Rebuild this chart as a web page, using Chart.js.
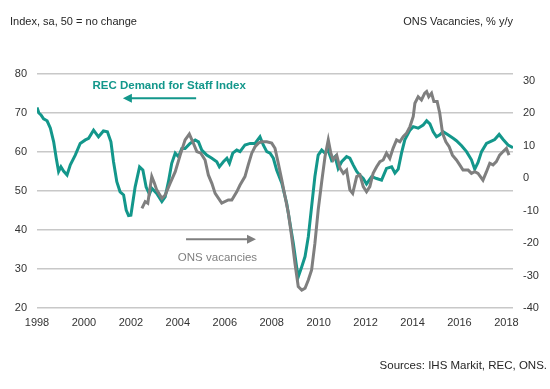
<!DOCTYPE html>
<html>
<head>
  <title>REC Demand for Staff vs ONS Vacancies</title>
  <script src="https://cdn.jsdelivr.net/npm/chart.js"></script>
  <style>
    body { margin: 0; background: #fff; }
    canvas { display: block; }
  </style>
</head>
<body>
  <canvas id="recChart" width="550" height="389"></canvas>

  <script>
    // REC Demand for Staff Index (left axis), decimal year -> index
    const recDates = [
      1998.0, 1998.08, 1998.17, 1998.28, 1998.43, 1998.57, 1998.71, 1998.82, 1998.92,
      1999.02, 1999.13, 1999.28, 1999.42, 1999.63, 1999.84, 2000.06, 2000.2, 2000.41,
      2000.62, 2000.83, 2001.0, 2001.15, 2001.26, 2001.4, 2001.54, 2001.69, 2001.8,
      2001.9, 2002.0, 2002.18, 2002.37, 2002.51, 2002.65, 2002.79, 2002.89, 2003.1,
      2003.32, 2003.46, 2003.6, 2003.74, 2003.89, 2004.03, 2004.17, 2004.31, 2004.52,
      2004.74, 2004.88, 2005.02, 2005.23, 2005.45, 2005.66, 2005.77, 2005.94, 2006.09,
      2006.2, 2006.34, 2006.51, 2006.65, 2006.86, 2007.08, 2007.29, 2007.5, 2007.64,
      2007.79, 2007.93, 2008.07, 2008.21, 2008.43, 2008.64, 2008.78, 2008.92, 2009.06,
      2009.13, 2009.28, 2009.42, 2009.56, 2009.7, 2009.84, 2009.98, 2010.13, 2010.27,
      2010.4, 2010.55, 2010.7, 2010.83, 2010.98, 2011.19, 2011.33, 2011.47, 2011.62,
      2011.76, 2011.9, 2012.04, 2012.26, 2012.47, 2012.68, 2012.89, 2013.11, 2013.25,
      2013.39, 2013.53, 2013.67, 2013.89, 2014.03, 2014.24, 2014.45, 2014.6, 2014.74,
      2014.88, 2015.02, 2015.16, 2015.3, 2015.51, 2015.73, 2015.87, 2016.09, 2016.3,
      2016.51, 2016.65, 2016.79, 2016.94, 2017.15, 2017.36, 2017.5, 2017.69, 2017.86,
      2018.07, 2018.28
    ];
    const recValues = [
      71.4, 70, 69.5, 68.5, 68, 66.1, 62.6, 58.4, 55,
      56.2, 55.1, 54.1, 56.7, 59.2, 62.2, 63.1, 63.5, 65.6,
      63.9, 65.4, 65.2, 62.6, 57.5, 52.4, 49.8, 49, 45.1,
      43.7, 43.8, 51, 56.2, 55.4, 51, 49.2, 50.7, 49.4,
      47.3, 48.5, 52.4, 57.1, 59.7, 58.8, 60.9, 60.9, 62.2,
      63.1, 62.6, 60.5, 59.2, 58.4, 57.5, 56.2, 57.5, 58.4,
      57.1, 59.7, 60.5, 60.1, 61.8, 62.2, 62.2, 63.9, 61.8,
      60.1, 59.7, 58.4, 55.4, 52, 46.8, 41.7, 36.6, 30.6,
      28, 30.6, 33.2, 38.3, 46, 53.7, 59.2, 60.5, 59.7,
      60.5, 57.9, 58.8, 55.8, 57.5, 58.8, 58.4, 56.7, 55,
      54, 53.2, 51.8, 53.7, 53.2, 52.8, 55.8, 56.2, 54.6,
      55.6, 59.7, 63.1, 65.6, 66.5, 66.1, 66.9, 68, 67.2,
      65.2, 63.9, 64.4, 65.2, 64.4, 63.5, 62.9, 61.6, 60.1,
      58, 55.6, 57.3, 60.1, 62.2, 62.8, 63.2, 64.5, 63.2,
      61.8, 61.1
    ];

    // ONS vacancies, % y/y (right axis)
    const onsDates = [
      2002.47, 2002.61, 2002.72, 2002.89, 2003.0, 2003.1, 2003.32, 2003.46, 2003.67,
      2003.89, 2004.1, 2004.31, 2004.49, 2004.66, 2004.81, 2004.98, 2005.16, 2005.3,
      2005.45, 2005.59, 2005.87, 2006.15, 2006.3, 2006.51, 2006.65, 2006.86, 2007.0,
      2007.15, 2007.29, 2007.43, 2007.57, 2007.79, 2008.0, 2008.14, 2008.28, 2008.43,
      2008.57, 2008.71, 2008.85, 2008.99, 2009.13, 2009.28, 2009.42, 2009.56, 2009.7,
      2009.84, 2009.98, 2010.13, 2010.27, 2010.41, 2010.52, 2010.62, 2010.77, 2010.91,
      2011.05, 2011.19, 2011.33, 2011.45, 2011.62, 2011.76, 2011.9, 2012.04, 2012.18,
      2012.32, 2012.47, 2012.61, 2012.75, 2012.89, 2013.03, 2013.17, 2013.32, 2013.46,
      2013.6, 2013.74, 2013.89, 2014.03, 2014.1, 2014.24, 2014.38, 2014.52, 2014.6,
      2014.69, 2014.81, 2014.91, 2015.05, 2015.16, 2015.28, 2015.42, 2015.56, 2015.7,
      2015.87, 2016.01, 2016.15, 2016.37, 2016.51, 2016.65, 2016.79, 2017.0, 2017.15,
      2017.29, 2017.43, 2017.57, 2017.71, 2017.86, 2018.0, 2018.11
    ];
    const onsValues = [
      -9.3, -7.2, -7.7, 0.5, -1.5, -3.6, -6.2, -5.2, -1.6,
      2, 7.1, 11.8, 13.6, 10.8, 8.2, 7.7, 5.6, 1,
      -1.6, -4.7, -7.7, -6.7, -6.7, -4.2, -2.1, 0.5, 4.1,
      7.7, 9.7, 10.8, 11.2, 11.2, 10.8, 9.2, 4.6, -0.6,
      -5.7, -10.8, -18, -26.2, -33.4, -34.5, -33.9, -31.4, -28.3,
      -20.1, -9.8, -1.1, 6.6, 11.8, 7.7, 5.6, 7.1, 3.1,
      1.5, 2.5, -3.6, -4.7, 0.5, 1, -2.6, -4.2, -2.6,
      1.5, 3.5, 5.1, 5.6, 7.7, 6.1, 9.2, 11.8, 11.2,
      12.8, 13.8, 15.9, 19, 23.1, 25.1, 24.1, 26.2, 26.7,
      25.1, 26.2, 23.6, 23.6, 20, 13.8, 11.2, 9.7, 7.1,
      5.6, 4.1, 2.5, 2.5, 1.5, 2, 1.5, -0.6, 2,
      4.6, 4.1, 5.1, 7.1, 8.2, 9.2, 7.1
    ];

    const xTicks = [1998, 2000, 2002, 2004, 2006, 2008, 2010, 2012, 2014, 2016, 2018];
    const leftTicks = [20, 30, 40, 50, 60, 70, 80];
    const rightTicks = [-40, -30, -20, -10, 0, 10, 20, 30];

    const teal = "#13978b";
    const grey = "#7f7f7f";
    const font = "'Liberation Sans', Arial, sans-serif";

    function arrow(ctx, x1, x2, y, color) {
      // line from x1 to x2, head at x2
      const dir = x2 > x1 ? 1 : -1;
      ctx.strokeStyle = color;
      ctx.fillStyle = color;
      ctx.lineWidth = 2;
      ctx.beginPath();
      ctx.moveTo(x1, y);
      ctx.lineTo(x2 - dir * 7, y);
      ctx.stroke();
      ctx.beginPath();
      ctx.moveTo(x2, y);
      ctx.lineTo(x2 - dir * 9, y - 4.5);
      ctx.lineTo(x2 - dir * 9, y + 4.5);
      ctx.closePath();
      ctx.fill();
    }

    const extras = {
      id: "extras",
      afterDraw(chart) {
        const ctx = chart.ctx;
        const x = chart.scales.x;
        const yl = chart.scales.yLeft;
        const area = chart.chartArea;
        ctx.save();
        ctx.textBaseline = "middle";
        ctx.font = "11px " + font;
        ctx.fillStyle = "#262626";
        ctx.textAlign = "left";
        ctx.fillText("Index, sa, 50 = no change", 10, 22);
        ctx.textAlign = "right";
        ctx.fillText("ONS Vacancies, % y/y", area.right, 22);
        ctx.font = "11.5px " + font;
        ctx.fillText("Sources: IHS Markit, REC, ONS.", 547, 366);

        ctx.textAlign = "center";
        ctx.font = "bold 11.5px " + font;
        ctx.fillStyle = teal;
        ctx.fillText("REC Demand for Staff Index", x.getPixelForValue(2003.63), yl.getPixelForValue(76.9));
        arrow(ctx, x.getPixelForValue(2004.78), x.getPixelForValue(2001.66), yl.getPixelForValue(73.8), teal);

        ctx.font = "11.5px " + font;
        ctx.fillStyle = grey;
        ctx.fillText("ONS vacancies", x.getPixelForValue(2005.69), yl.getPixelForValue(32.9));
        arrow(ctx, x.getPixelForValue(2004.35), x.getPixelForValue(2007.33), yl.getPixelForValue(37.6), grey);
        ctx.restore();
      }
    };

    const ctx = document.getElementById("recChart").getContext("2d");
    new Chart(ctx, {
      type: "line",
      data: {
        datasets: [
          {
            label: "REC Demand for Staff Index",
            data: recDates.map((d, i) => ({ x: d, y: recValues[i] })),
            yAxisID: "yLeft",
            borderColor: teal,
            borderWidth: 3,
            pointRadius: 0,
            tension: 0,
            fill: false,
            order: 2
          },
          {
            label: "ONS vacancies",
            data: onsDates.map((d, i) => ({ x: d, y: onsValues[i] })),
            yAxisID: "yRight",
            borderColor: grey,
            borderWidth: 3,
            pointRadius: 0,
            tension: 0,
            fill: false,
            order: 1
          }
        ]
      },
      options: {
        responsive: false,
        animation: false,
        layout: { padding: { top: 74, left: 0, right: 0, bottom: 0 } },
        plugins: {
          legend: { display: false },
          tooltip: { enabled: false }
        },
        scales: {
          x: {
            type: "linear",
            min: 1998,
            max: 2018.28,
            afterFit: s => { s.height = 81; },
            afterBuildTicks: s => { s.ticks = xTicks.map(v => ({ value: v })); },
            grid: { display: false, drawTicks: false },
            border: { display: false },
            ticks: {
              padding: 8,
              maxRotation: 0,
              autoSkip: false,
              color: "#333",
              font: { family: font, size: 11 },
              callback: v => String(v)
            }
          },
          yLeft: {
            position: "left",
            min: 20,
            max: 80,
            afterFit: s => { s.width = 37; },
            afterBuildTicks: s => { s.ticks = leftTicks.map(v => ({ value: v })); },
            grid: { color: "#c8c8c8", lineWidth: 1.5, drawTicks: false },
            border: { display: false },
            ticks: {
              padding: 10,
              color: "#333",
              font: { family: font, size: 11 }
            }
          },
          yRight: {
            position: "right",
            min: -40,
            max: 32.1,
            afterFit: s => { s.width = 37; },
            afterBuildTicks: s => { s.ticks = rightTicks.map(v => ({ value: v })); },
            grid: { display: false, drawTicks: false },
            border: { display: false },
            ticks: {
              padding: 10,
              color: "#333",
              font: { family: font, size: 11 }
            }
          }
        }
      },
      plugins: [extras]
    });
  </script>
</body>
</html>
